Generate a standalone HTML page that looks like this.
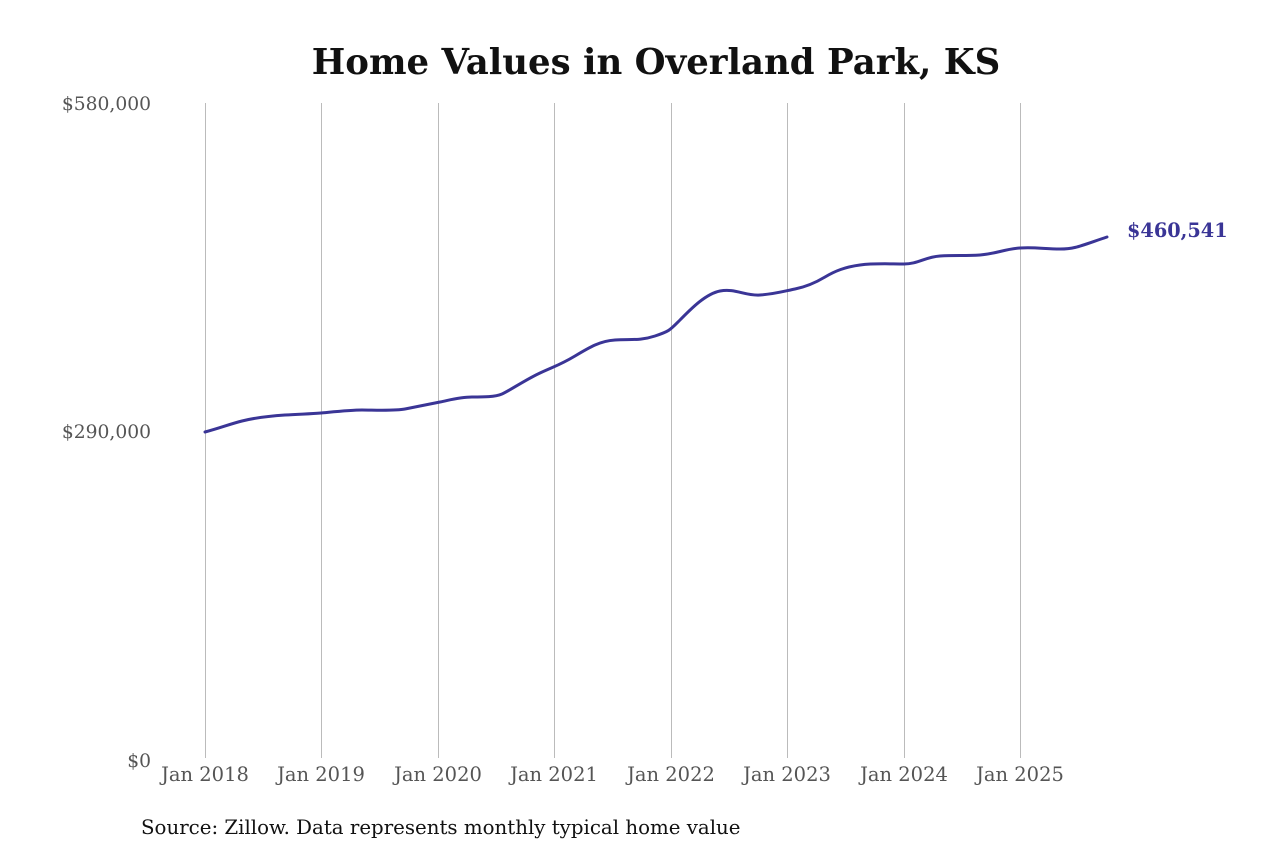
<!DOCTYPE html>
<html><head><style>
body{margin:0;background:#fff;width:1280px;height:853px;overflow:hidden}
svg text{font-family:"DejaVu Serif","Liberation Serif",serif}
</style></head><body>
<svg width="1280" height="853" xmlns="http://www.w3.org/2000/svg">
<rect width="1280" height="853" fill="#fff"/>
<text x="656" y="74" text-anchor="middle" font-size="35.5" font-weight="bold" fill="#111">Home Values in Overland Park, KS</text>
<g stroke="#bbb" stroke-width="1">
<line x1="205.5" y1="103" x2="205.5" y2="758"/>
<line x1="321.5" y1="103" x2="321.5" y2="758"/>
<line x1="438.5" y1="103" x2="438.5" y2="758"/>
<line x1="554.5" y1="103" x2="554.5" y2="758"/>
<line x1="671.5" y1="103" x2="671.5" y2="758"/>
<line x1="787.5" y1="103" x2="787.5" y2="758"/>
<line x1="904.5" y1="103" x2="904.5" y2="758"/>
<line x1="1020.5" y1="103" x2="1020.5" y2="758"/>
</g>
<g font-size="18.7" fill="#555" text-anchor="end">
<text x="151" y="110">$580,000</text>
<text x="151" y="438">$290,000</text>
<text x="151" y="767">$0</text>
</g>
<g font-size="19.5" fill="#555" text-anchor="middle">
<text x="205" y="781">Jan 2018</text>
<text x="321" y="781">Jan 2019</text>
<text x="438" y="781">Jan 2020</text>
<text x="554" y="781">Jan 2021</text>
<text x="671" y="781">Jan 2022</text>
<text x="787" y="781">Jan 2023</text>
<text x="904" y="781">Jan 2024</text>
<text x="1020" y="781">Jan 2025</text>
</g>
<path fill="none" stroke="#3a3596" stroke-width="3" stroke-linecap="round"
d="M205,432 C220,428 230,424 242,421 S270,416 285,415 S310,414 321,413 S350,410 362,410 S395,411 405,409 S430,404 440,402 S460,397 472,397 S495,397 502,394 S525,380 540,373 S560,365 575,356 S600,341 615,340 S640,341 655,336 S670,330 680,320 S705,294 720,291 S745,296 760,295 S785,291 795,289 S815,283 825,277 S845,267 860,265 S890,264 904,264 S925,257 940,256 S965,256 980,255 S1005,249 1020,248 S1045,249 1060,249 S1080,246 1107,237"/>
<text x="1127" y="237" font-size="19.3" font-weight="bold" fill="#3a3596">$460,541</text>
<text x="141" y="834" font-size="19.8" fill="#111">Source: Zillow. Data represents monthly typical home value</text>
</svg>
</body></html>
